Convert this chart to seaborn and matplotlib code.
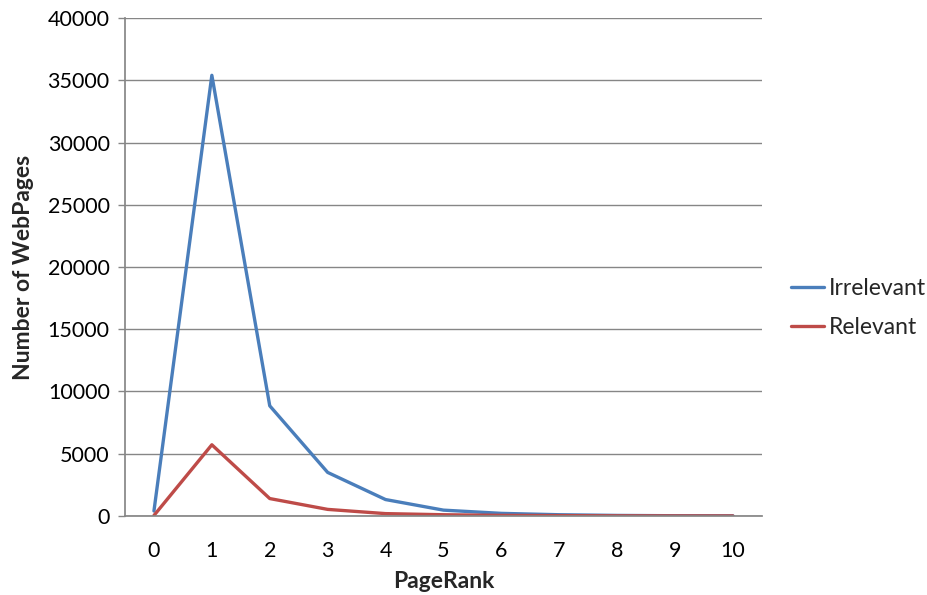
import numpy as np
import pandas as pd
import matplotlib
matplotlib.use("Agg")
import matplotlib.pyplot as plt
import seaborn as sns

page_rank = [0, 1, 2, 3, 4, 5, 6, 7, 8, 9, 10]
irrelevant = [400, 35400, 8850, 3500, 1320, 470, 210, 100, 45, 20, 10]
relevant = [40, 5720, 1400, 530, 190, 100, 50, 30, 12, 6, 3]
series_names = ["Irrelevant", "Relevant"]
y_ticks = [0, 5000, 10000, 15000, 20000, 25000, 30000, 35000, 40000]

df = pd.DataFrame({
    "PageRank": page_rank * 2,
    "Count": irrelevant + relevant,
    "Series": [series_names[0]] * len(page_rank) + [series_names[1]] * len(page_rank),
})

sns.set_theme(style="white")
plt.rcParams["font.family"] = ["Lato", "DejaVu Sans"]

fig = plt.figure(figsize=(9.28, 5.95), dpi=100)
ax = fig.add_axes([0.1347, 0.1328, 0.6863, 0.8369])

palette = {"Irrelevant": "#4A7EBB", "Relevant": "#BE4B48"}
sns.lineplot(data=df, x="PageRank", y="Count", hue="Series", palette=palette,
             linewidth=2.4, ax=ax, legend=True)

ax.set_xlim(-0.5, 10.5)
ax.set_ylim(0, 40000)
ax.set_xticks(page_rank)
ax.set_xticklabels([str(v) for v in page_rank], fontsize=15.5, color="black")
ax.set_yticks(y_ticks)
ax.set_yticklabels([str(v) for v in y_ticks], fontsize=15.5, color="black")
ax.tick_params(axis="x", length=0, pad=18)
ax.tick_params(axis="y", length=5, width=1, color="#868686", pad=6, left=True)

ax.grid(axis="y", color="#868686", linewidth=1)
ax.set_axisbelow(True)
for side in ["top", "right"]:
    ax.spines[side].set_visible(False)
ax.spines["left"].set_color("#868686")
ax.spines["bottom"].set_color("#868686")

ax.set_xlabel("PageRank", fontsize=16.5, fontweight="bold", labelpad=7)
ax.set_ylabel("Number of WebPages", fontsize=16.5, fontweight="bold", labelpad=10)

leg = ax.legend(loc="center left", bbox_to_anchor=(1.031, 0.418), borderaxespad=0,
                frameon=False, fontsize=16.5, handlelength=1.45, handletextpad=0.22,
                labelspacing=0.8, title=None)
for line in leg.get_lines():
    line.set_linewidth(2.4)

fig.savefig("out.png", dpi=100)
